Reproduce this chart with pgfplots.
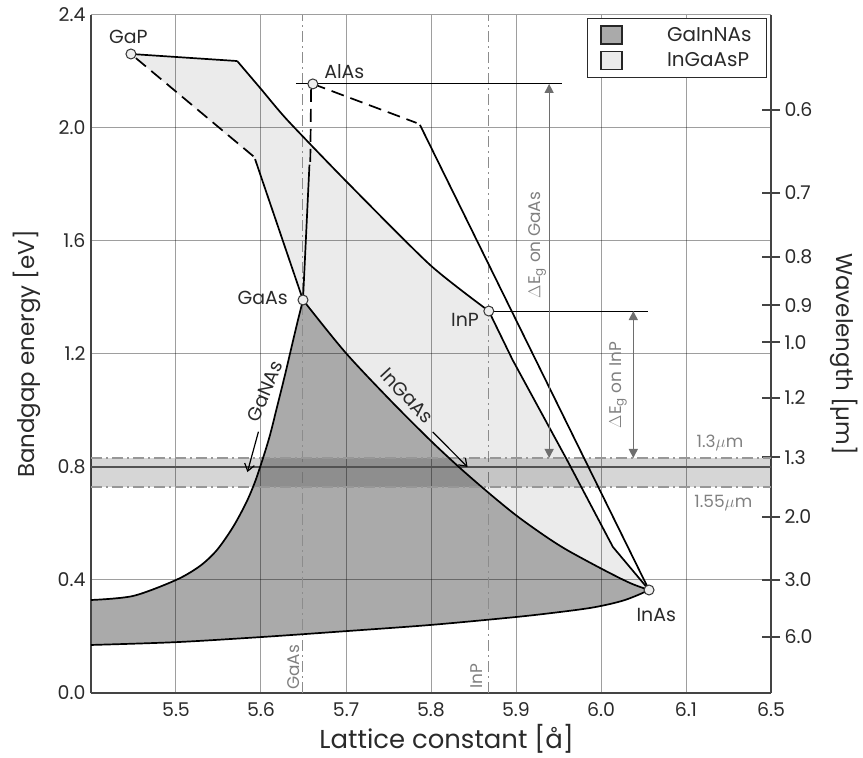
\documentclass[border=0pt]{standalone}
\usepackage{fontspec}
\setmainfont{Poppins}
\usepackage{pgfplots}
\pgfplotsset{compat=1.18}
\usetikzlibrary{arrows.meta}

\definecolor{darkfill}{HTML}{AAAAAA}
\definecolor{lightfill}{HTML}{EBEBEB}
\definecolor{axisgray}{HTML}{444444}
\definecolor{textgray}{HTML}{2A2A2A}
\definecolor{annogray}{HTML}{808080}
\definecolor{arrowgray}{HTML}{6E6E6E}
\definecolor{refgray}{HTML}{8C8C8C}
\definecolor{pointfill}{HTML}{EEEEEE}

\newcommand{\ticksize}{\fontsize{19}{22}\selectfont}
\newcommand{\legendsize}{\fontsize{20}{23}\selectfont}
\newcommand{\xlabelsize}{\fontsize{26}{30}\selectfont}
\newcommand{\ylabelsize}{\fontsize{23}{28}\selectfont}
\newcommand{\annosize}{\fontsize{19}{22}\selectfont}
\newcommand{\smallanno}{\fontsize{17}{20}\selectfont}

\pgfplotsset{
  common/.style={
    scale only axis, width=680bp, height=678bp,
    xmin=5.4, xmax=6.2, ymin=0, ymax=2.4,
    at={(0,0)}, anchor=south west,
  },
  curve/.style={black, line width=1.7bp, line join=round},
  dashedcurve/.style={black, line width=1.7bp, dash pattern=on 13bp off 7bp},
  dashdot/.style={refgray, line width=1.3bp, dash pattern=on 11bp off 4bp on 2bp off 4bp},
  swatch/.style={legend image code/.code={
    \draw[fill=#1, draw=black!85, line width=1.4bp] (0bp,-9bp) rectangle (21bp,9bp);
    \path[draw=none, fill=none] (21bp,0bp) -- (64bp,0bp);}},
}

\begin{document}
\begin{tikzpicture}
\path[use as bounding box] (-91bp,-65bp) rectangle (772bp,693bp);

% ---------- filled alloy regions, grid and left/bottom axes ----------
\begin{axis}[common, axis on top,
  axis x line*=bottom, axis y line*=left,
  axis line style={axisgray, line width=1.5bp},
  xtick={5.5,5.6,5.7,5.8,5.9,6.0,6.1,6.2},
  xticklabels={5.5,5.6,5.7,5.8,5.9,6.0,6.1,6.5},
  ytick={0,0.4,0.8,1.2,1.6,2.0,2.4},
  yticklabels={0.0,0.4,0.8,1.2,1.6,2.0,2.4},
  major tick length=0pt,
  grid=major,
  major grid style={black, opacity=0.38, line width=1bp},
  tick label style={font=\ticksize, textgray},
  xticklabel style={yshift=-6bp},
  yticklabel style={xshift=-2bp},
  xlabel={Lattice constant [å]},
  ylabel={Bandgap energy [eV]},
  xlabel style={font=\xlabelsize, textgray, at={(axis description cs:0.523,-0.068)}, anchor=center},
  ylabel style={font=\ylabelsize, textgray, at={(axis description cs:-0.095,0.5)}, anchor=center},
  legend style={at={(axis description cs:0.994,0.9956)}, anchor=north east,
    draw=textgray, line width=0.8bp, fill=white,
    inner xsep=13bp, inner ysep=7bp,
    font=\legendsize, text=textgray,
    nodes={inner sep=2bp},
    row sep=6bp, cells={anchor=west}},
]
% GaInNAs
\addplot[forget plot, draw=none, fill=darkfill] coordinates {
  (5.4000,0.3292) (5.4494,0.3434) (5.5000,0.4000) (5.5282,0.4496) (5.5482,0.5062)
  (5.5671,0.5876) (5.5824,0.6726) (5.5929,0.7469) (5.6024,0.8319) (5.6106,0.9133)
  (5.6200,1.0265) (5.6282,1.1257) (5.6365,1.2319) (5.6435,1.3204) (5.6494,1.3912)
  (5.6988,1.2071) (5.7518,1.0372) (5.7988,0.8956) (5.8341,0.7965) (5.8694,0.7044)
  (5.9012,0.6265) (5.9341,0.5558) (5.9600,0.5062) (6.0012,0.4389) (6.0341,0.3894)
  (6.0565,0.3646)
  (6.0435,0.3469) (6.0282,0.3292) (6.0106,0.3150) (5.9870,0.3009) (5.9518,0.2867)
  (5.9000,0.2690) (5.8000,0.2410) (5.7000,0.2190) (5.6000,0.1980) (5.5000,0.1800)
  (5.4000,0.1700)
} -- cycle;
% InGaAsP
\addplot[forget plot, draw=none, fill=lightfill] coordinates {
  (5.447,2.262) (5.572,2.237) (5.600,2.138) (5.631,2.028) (5.701,1.809)
  (5.799,1.515) (5.868,1.352) (5.896,1.179) (5.960,0.825) (6.014,0.517)
  (6.0565,0.3646)
  (6.0341,0.3894) (6.0012,0.4389) (5.9600,0.5062) (5.9341,0.5558) (5.9012,0.6265)
  (5.8694,0.7044) (5.8341,0.7965) (5.7988,0.8956) (5.7518,1.0372) (5.6988,1.2071)
  (5.6494,1.3912) (5.593,1.890)
} -- cycle;
\addlegendimage{swatch=darkfill}
\addlegendentry{GaInNAs}
\addlegendimage{swatch=lightfill}
\addlegendentry{InGaAsP}
\end{axis}

% ---------- boundaries, reference lines, points, right axis ----------
\begin{axis}[common, clip=false,
  axis x line=none, axis y line*=right,
  axis line style={axisgray, line width=1.5bp},
  ytick={2.064,1.770,1.543,1.373,1.242,1.044,0.835,0.623,0.400,0.198},
  yticklabels={0.6,0.7,0.8,0.9,1.0,1.2,1.3,2.0,3.0,6.0},
  tick align=center, major tick length=18bp,
  major tick style={axisgray, line width=1.3bp},
  tick label style={font=\ticksize, textgray},
  yticklabel style={xshift=1bp},
  ylabel={Wavelength [µm]},
  ylabel style={font=\ylabelsize, textgray, at={(axis description cs:1.108,0.5)}, anchor=center, rotate=180},
]
% reference lattice constants of the substrates
\addplot[dashdot] coordinates {(5.649,0) (5.649,2.4)};
\addplot[dashdot] coordinates {(5.868,0) (5.868,2.4)};

% telecom window band 1.3 - 1.55 um
\addplot[draw=none, fill=black, fill opacity=0.16] coordinates {
  (5.4,0.729) (6.2,0.729) (6.2,0.832) (5.4,0.832)} -- cycle;
\addplot[dashdot, refgray!90] coordinates {(5.4,0.832) (6.2,0.832)};
\addplot[dashdot, refgray!90] coordinates {(5.4,0.729) (6.2,0.729)};
\addplot[color=black!68, line width=1.6bp] coordinates {(5.4,0.800) (6.2,0.800)};

% InGaAsP outline
\addplot[curve] coordinates {(5.447,2.262) (5.572,2.237)};
\addplot[curve, smooth, tension=0.4] coordinates {
  (5.572,2.237) (5.600,2.138) (5.631,2.028) (5.701,1.809) (5.799,1.515) (5.868,1.352)};
\addplot[curve] coordinates {
  (5.868,1.352) (5.896,1.179) (5.960,0.825) (6.014,0.517) (6.0565,0.3646)};
\addplot[curve] coordinates {(5.6494,1.3912) (5.593,1.890)};
\addplot[dashedcurve] coordinates {(5.591,1.900) (5.447,2.262)};

% AlGaAs and AlInAs
\addplot[curve] coordinates {(5.6494,1.3912) (5.657,1.870)};
\addplot[dashedcurve] coordinates {(5.658,1.880) (5.659,2.150)};
\addplot[dashedcurve] coordinates {(5.661,2.156) (5.783,2.018)};
\addplot[curve] coordinates {(5.787,2.011) (6.0565,0.3646)};

% InGaAs
\addplot[curve, smooth, tension=0.5] coordinates {
  (5.6494,1.3912) (5.6988,1.2071) (5.7518,1.0372) (5.7988,0.8956) (5.8341,0.7965)
  (5.8694,0.7044) (5.9012,0.6265) (5.9341,0.5558) (5.9600,0.5062) (6.0012,0.4389)
  (6.0341,0.3894) (6.0565,0.3646)};
% GaNAs
\addplot[curve, smooth, tension=0.5] coordinates {
  (5.4000,0.3292) (5.4494,0.3434) (5.5000,0.4000) (5.5282,0.4496) (5.5482,0.5062)
  (5.5671,0.5876) (5.5824,0.6726) (5.5929,0.7469) (5.6024,0.8319) (5.6106,0.9133)
  (5.6200,1.0265) (5.6282,1.1257) (5.6365,1.2319) (5.6435,1.3204) (5.6494,1.3912)};
% lower GaInNAs limit
\addplot[curve, smooth, tension=0.5] coordinates {
  (5.4000,0.1700) (5.5000,0.1800) (5.6000,0.1980) (5.7000,0.2190) (5.8000,0.2410)
  (5.9000,0.2690) (5.9518,0.2867) (5.9870,0.3009) (6.0106,0.3150) (6.0282,0.3292)
  (6.0435,0.3469) (6.0565,0.3646)};

% band-gap offsets relative to the substrates
\addplot[black, line width=1.1bp] coordinates {(5.641,2.156) (5.954,2.156)};
\addplot[black, line width=1.1bp] coordinates {(5.868,1.352) (6.055,1.352)};
\addplot[arrowgray, line width=1.3bp,
  arrows={Triangle[width=9bp,length=9bp]-Triangle[width=9bp,length=9bp]}]
  coordinates {(5.939,2.156) (5.939,0.832)};
\addplot[arrowgray, line width=1.3bp,
  arrows={Triangle[width=9bp,length=9bp]-Triangle[width=9bp,length=9bp]}]
  coordinates {(6.038,1.352) (6.038,0.832)};

% pointers to the curves
\addplot[black, line width=1.2bp, arrows={-Straight Barb[length=7bp,width=10bp]}]
  coordinates {(5.597,0.925) (5.584,0.782)};
\addplot[black, line width=1.2bp, arrows={-Straight Barb[length=7bp,width=10bp]}]
  coordinates {(5.802,0.924) (5.843,0.800)};

% binary compounds
\addplot[only marks, mark=*, mark size=5bp,
  mark options={fill=pointfill, draw=black!80, line width=1bp}] coordinates {
  (5.447,2.262) (5.661,2.156) (5.6494,1.3912) (5.868,1.352) (6.0565,0.3646)};

\node[font=\annosize, textgray] at (axis cs:5.444,2.322) {GaP};
\node[font=\annosize, textgray] at (axis cs:5.698,2.198) {AlAs};
\node[font=\annosize, textgray] at (axis cs:5.602,1.398) {GaAs};
\node[font=\annosize, textgray] at (axis cs:5.840,1.320) {InP};
\node[font=\annosize, textgray] at (axis cs:6.065,0.276) {InAs};
\node[font=\annosize, textgray, rotate=67, inner sep=0pt] at (axis cs:5.605,1.068) {GaNAs};
\node[font=\annosize, textgray, rotate=-47, inner sep=0pt] at (axis cs:5.772,1.052) {InGaAs};

\node[font=\smallanno, annogray, rotate=90, anchor=south west, inner sep=0pt]
  at (axis cs:5.646,0.010) {GaAs};
\node[font=\smallanno, annogray, rotate=90, anchor=south west, inner sep=0pt]
  at (axis cs:5.861,0.015) {InP};
\node[font=\smallanno, annogray, rotate=90] at (axis cs:5.925,1.586)
  {$\Delta\mathrm{E}_\mathrm{g}$ on GaAs};
\node[font=\smallanno, annogray, rotate=90] at (axis cs:6.020,1.090)
  {$\Delta\mathrm{E}_\mathrm{g}$ on InP};
\node[font=\smallanno, annogray] at (axis cs:6.140,0.885) {1.3$\mu$m};
\node[font=\smallanno, annogray] at (axis cs:6.144,0.673) {1.55$\mu$m};
\end{axis}
\end{tikzpicture}
\end{document}
